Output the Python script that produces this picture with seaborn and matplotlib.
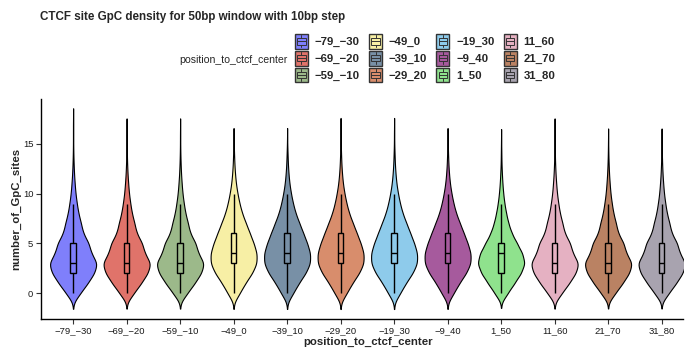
import numpy as np
import pandas as pd
import seaborn as sns
import matplotlib
matplotlib.use("Agg")
import matplotlib.pyplot as plt
from matplotlib.legend_handler import HandlerBase
from matplotlib.patches import Rectangle, Patch
from matplotlib.lines import Line2D

# ---------------- data ----------------
categories = ["−79_−30", "−69_−20", "−59_−10", "−49_0", "−39_10", "−29_20",
              "−19_30", "−9_40", "1_50", "11_60", "21_70", "31_80"]
gpc_values = list(range(18))  # number of GpC sites 0..17

# estimated frequencies of each GpC count per window
counts_m79_m30 = [55, 110, 160, 185, 135, 120, 75, 60, 40, 28, 18, 12, 7, 4, 2, 1, 1, 1]
counts_m69_m20 = [55, 110, 160, 185, 135, 120, 75, 60, 40, 28, 18, 12, 7, 4, 2, 1, 1, 0]
counts_m59_m10 = [55, 110, 160, 185, 135, 120, 75, 60, 40, 28, 18, 12, 7, 4, 2, 1, 1, 0]
counts_m49_0   = [40, 75, 120, 150, 150, 130, 105, 80, 55, 38, 25, 15, 9, 5, 3, 1, 0, 0]
counts_m39_10  = [40, 75, 120, 150, 150, 130, 105, 80, 55, 38, 25, 15, 9, 5, 3, 1, 0, 0]
counts_m29_20  = [40, 75, 120, 150, 150, 130, 105, 80, 55, 38, 25, 15, 9, 5, 3, 1, 1, 0]
counts_m19_30  = [40, 75, 120, 150, 150, 130, 105, 80, 55, 38, 25, 15, 9, 5, 3, 1, 1, 0]
counts_m9_40   = [40, 75, 120, 150, 150, 130, 105, 80, 55, 38, 25, 15, 9, 5, 3, 1, 0, 0]
counts_1_50    = [50, 100, 150, 180, 160, 120, 80, 55, 38, 25, 16, 10, 6, 3, 2, 1, 0, 0]
counts_11_60   = [55, 110, 160, 185, 135, 120, 75, 60, 40, 28, 18, 12, 7, 4, 2, 1, 1, 0]
counts_21_70   = [55, 110, 160, 185, 135, 120, 75, 60, 40, 28, 18, 12, 7, 4, 2, 1, 0, 0]
counts_31_80   = [55, 110, 160, 185, 135, 120, 75, 60, 40, 28, 18, 12, 7, 4, 2, 1, 0, 0]

all_counts = [counts_m79_m30, counts_m69_m20, counts_m59_m10, counts_m49_0,
              counts_m39_10, counts_m29_20, counts_m19_30, counts_m9_40,
              counts_1_50, counts_11_60, counts_21_70, counts_31_80]

colors = ["#7F7FFB", "#E0736A", "#9CB98A", "#F7EFA5", "#7890A6", "#D88D6C",
          "#8ECBEB", "#A65A9D", "#8FE28D", "#E5B1C2", "#BA8263", "#A8A3AF"]

frames = [pd.DataFrame({"position_to_ctcf_center": cat,
                        "number_of_GpC_sites": np.repeat(gpc_values, cnt)})
          for cat, cnt in zip(categories, all_counts)]
df = pd.concat(frames, ignore_index=True)
df["position_to_ctcf_center"] = pd.Categorical(df["position_to_ctcf_center"],
                                               categories=categories)

# ---------------- style ----------------
sns.set_theme(style="ticks")
plt.rcParams["font.family"] = ["Liberation Sans", "DejaVu Sans"]

W, H = 697, 352
fig = plt.figure(figsize=(W / 100, H / 100), dpi=100)
ax = fig.add_axes([41 / W, (H - 319) / H, 642 / W, 220 / H])

pal = dict(zip(categories, colors))
sns.violinplot(data=df, x="position_to_ctcf_center", y="number_of_GpC_sites",
               hue="position_to_ctcf_center", order=categories, hue_order=categories,
               palette=pal, inner=None, cut=2.6, bw_method=0.22, width=0.86,
               density_norm="area", saturation=1, linecolor="black",
               linewidth=0.8, legend=False, ax=ax)
sns.boxplot(data=df, x="position_to_ctcf_center", y="number_of_GpC_sites",
            hue="position_to_ctcf_center", order=categories, hue_order=categories,
            palette=pal, width=0.1, showfliers=False, showcaps=False,
            saturation=1, linecolor="black", linewidth=1.0, legend=False, ax=ax)

ax.set_xlim(-0.6, 11.4)
ax.set_ylim(-2.6, 19.5)
ax.set_yticks([0, 5, 10, 15])
sns.despine(ax=ax)
for s in ["left", "bottom"]:
    ax.spines[s].set_linewidth(1.0)
    ax.spines[s].set_color("black")
ax.tick_params(axis="both", length=3.5, width=0.8, color="#333333",
               labelsize=6.8, labelcolor="#1a1a1a", pad=2)

ax.set_xlabel("position_to_ctcf_center", fontsize=8.2, fontweight="bold")
ax.set_ylabel("number_of_GpC_sites", fontsize=8.2, fontweight="bold")
ax.xaxis.set_label_coords((368 - 41) / 642, -0.08)
ax.yaxis.set_label_coords((21 - 41) / 642, 0.5)

# ---------------- title ----------------
fig.text(40 / W, 1 - 17 / H, "CTCF site GpC density for 50bp window with 10bp step",
         ha="left", va="center", fontsize=8.4, fontweight="bold")


# ---------------- legend ----------------
class BoxKey(HandlerBase):
    def create_artists(self, legend, orig_handle, xdescent, ydescent, width,
                       height, fontsize, trans):
        c = orig_handle.get_facecolor()
        x0, y0 = -xdescent, -ydescent
        ec = "#333333"
        arts = [Rectangle((x0, y0), width, height, facecolor=c, edgecolor=ec,
                          lw=1.0, transform=trans)]
        bx0, bw = x0 + width * 0.18, width * 0.64
        by0, bh = y0 + height * 0.28, height * 0.44
        arts.append(Rectangle((bx0, by0), bw, bh, facecolor=c, edgecolor=ec,
                              lw=0.7, transform=trans))
        arts.append(Line2D([bx0, bx0 + bw], [y0 + height * 0.5] * 2, color=ec,
                           lw=0.7, transform=trans))
        arts.append(Line2D([x0 + width / 2] * 2, [y0 + height * 0.08, by0],
                           color=ec, lw=0.7, transform=trans))
        arts.append(Line2D([x0 + width / 2] * 2, [by0 + bh, y0 + height * 0.92],
                           color=ec, lw=0.7, transform=trans))
        return arts


handles = [Patch(facecolor=c) for c in colors]
fig.legend(handles, categories, handler_map={Patch: BoxKey()}, ncol=4,
           loc="upper left", bbox_to_anchor=(295 / W, 1 - 34 / H),
           frameon=False, borderpad=0, borderaxespad=0,
           handlelength=1.14, handleheight=1.6, handletextpad=0.6,
           columnspacing=0.8, labelspacing=0.2,
           prop={"weight": "bold", "size": 8.2})
fig.text(288 / W, 1 - 60 / H, "position_to_ctcf_center", ha="right",
         va="center", fontsize=7.6)

fig.savefig("out.png", dpi=100)
